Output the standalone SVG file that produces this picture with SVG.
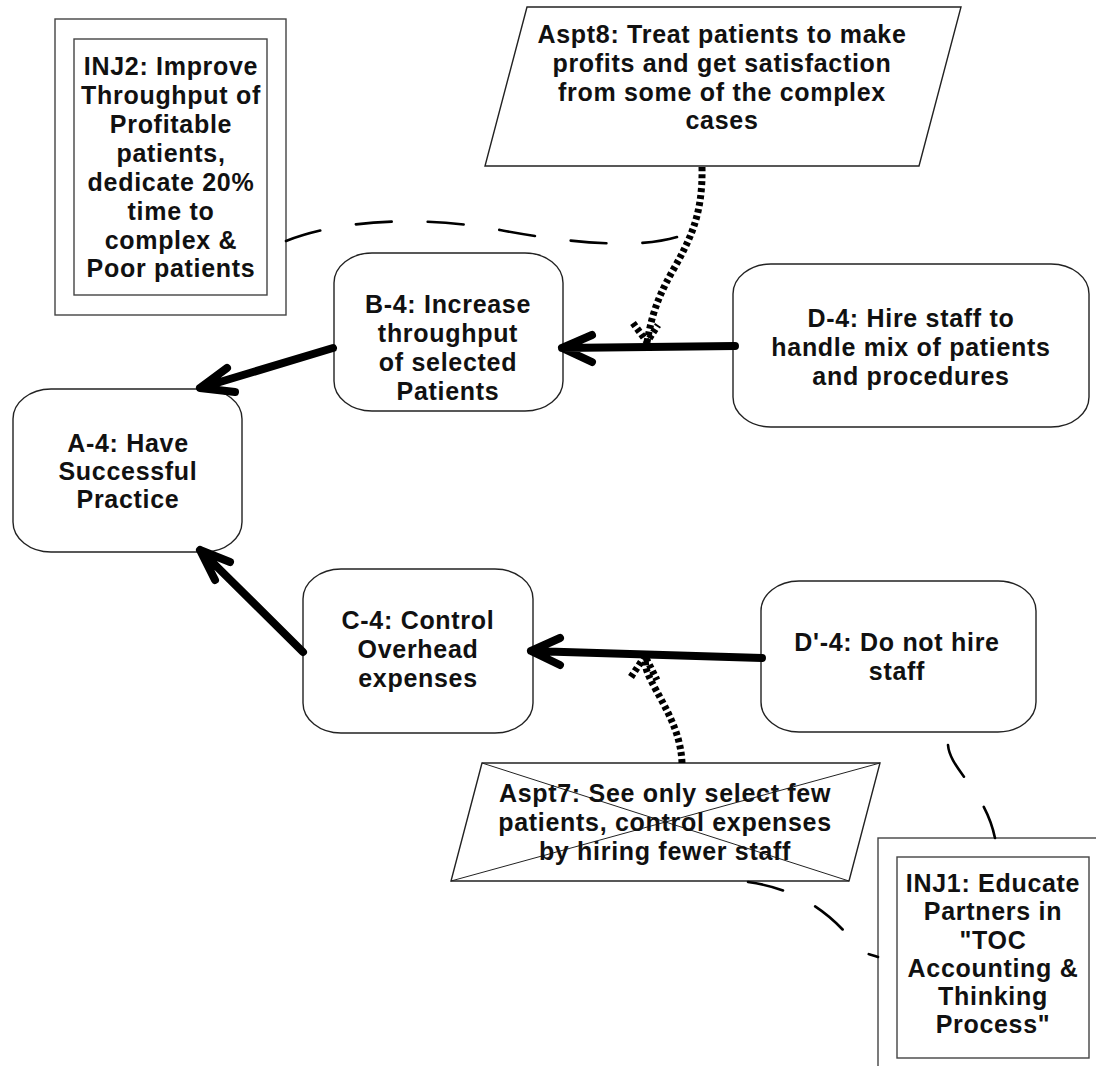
<svg xmlns="http://www.w3.org/2000/svg" width="1096" height="1066" viewBox="0 0 1096 1066">
  <style>
    .box { fill: #fff; stroke: #222; stroke-width: 1.4; }
    .frame { fill: none; stroke: #444; stroke-width: 1.4; }
    .cross { fill: none; stroke: #222; stroke-width: 1; }
    .lbl { font-family: "Liberation Sans", Arial, sans-serif; font-weight: bold; font-size: 25px; letter-spacing: 0.7px; fill: #111; text-anchor: middle; }
    .arrow { fill: none; stroke: #000; stroke-width: 8; stroke-linecap: round; stroke-linejoin: round; }
    .assume { fill: none; stroke: #000; stroke-width: 7; stroke-dasharray: 4 3; }
    .inj { fill: none; stroke: #000; stroke-width: 2.6; stroke-dasharray: 36 36; stroke-linecap: round; }
  </style>

  <rect width="1096" height="1066" fill="#fff"/>

  <!-- injection INJ2 -->
  <g id="inj2">
    <rect class="frame" x="55" y="19" width="231" height="296"/>
    <rect class="frame" x="74" y="39" width="193" height="256"/>
    <text class="lbl" x="171" y="75">INJ2: Improve</text>
    <text class="lbl" x="171" y="104">Throughput of</text>
    <text class="lbl" x="171" y="133">Profitable</text>
    <text class="lbl" x="171" y="162">patients,</text>
    <text class="lbl" x="171" y="191">dedicate 20%</text>
    <text class="lbl" x="171" y="220">time to</text>
    <text class="lbl" x="171" y="249">complex &amp;</text>
    <text class="lbl" x="171" y="277">Poor patients</text>
  </g>

  <!-- assumption Aspt8 -->
  <g id="aspt8">
    <polygon class="box" points="527,7 961,7 919,166 485,166"/>
    <text class="lbl" x="722" y="43">Aspt8: Treat patients to make</text>
    <text class="lbl" x="722" y="72">profits and get satisfaction</text>
    <text class="lbl" x="722" y="101">from some of the complex</text>
    <text class="lbl" x="722" y="129">cases</text>
  </g>

  <!-- A-4 -->
  <g id="a4">
    <rect class="box" x="13" y="389" width="229" height="163" rx="38" ry="30"/>
    <text class="lbl" x="128" y="452">A-4: Have</text>
    <text class="lbl" x="128" y="480">Successful</text>
    <text class="lbl" x="128" y="508">Practice</text>
  </g>

  <!-- B-4 -->
  <g id="b4">
    <rect class="box" x="334" y="253" width="229" height="158" rx="38" ry="30"/>
    <text class="lbl" x="448" y="313">B-4: Increase</text>
    <text class="lbl" x="448" y="342">throughput</text>
    <text class="lbl" x="448" y="371">of selected</text>
    <text class="lbl" x="448" y="400">Patients</text>
  </g>

  <!-- C-4 -->
  <g id="c4">
    <rect class="box" x="303" y="569" width="230" height="164" rx="38" ry="30"/>
    <text class="lbl" x="418" y="629">C-4: Control</text>
    <text class="lbl" x="418" y="658">Overhead</text>
    <text class="lbl" x="418" y="687">expenses</text>
  </g>

  <!-- D-4 -->
  <g id="d4">
    <rect class="box" x="733" y="264" width="356" height="163" rx="38" ry="30"/>
    <text class="lbl" x="911" y="327">D-4: Hire staff to</text>
    <text class="lbl" x="911" y="356">handle mix of patients</text>
    <text class="lbl" x="911" y="385">and procedures</text>
  </g>

  <!-- D'-4 -->
  <g id="d4prime">
    <rect class="box" x="761" y="581" width="275" height="151" rx="38" ry="30"/>
    <text class="lbl" x="897" y="651">D'-4: Do not hire</text>
    <text class="lbl" x="897" y="680">staff</text>
  </g>

  <!-- assumption Aspt7 (crossed out) -->
  <g id="aspt7">
    <polygon class="box" points="482,763 880,763 849,881 451,881"/>
    <line class="cross" x1="482" y1="763" x2="849" y2="881"/>
    <line class="cross" x1="880" y1="763" x2="451" y2="881"/>
    <text class="lbl" x="665" y="802">Aspt7: See only select few</text>
    <text class="lbl" x="665" y="831">patients, control expenses</text>
    <text class="lbl" x="665" y="860">by hiring fewer staff</text>
  </g>

  <!-- injection INJ1 -->
  <g id="inj1">
    <rect class="frame" x="878" y="838" width="240" height="260"/>
    <rect class="frame" x="897" y="857" width="192" height="201"/>
    <text class="lbl" x="993" y="892">INJ1: Educate</text>
    <text class="lbl" x="993" y="920">Partners in</text>
    <text class="lbl" x="993" y="949">"TOC</text>
    <text class="lbl" x="993" y="977">Accounting &amp;</text>
    <text class="lbl" x="993" y="1005">Thinking</text>
    <text class="lbl" x="993" y="1033">Process"</text>
  </g>

  <!-- connectors -->
  <g id="connectors">
    <!-- necessity arrows -->
    <path class="arrow" d="M333,348 L200,388 M227,368 L200,388 L235,392"/>
    <path class="arrow" d="M303,652 L200,550 M215,580 L200,550 L230,562"/>
    <path class="arrow" d="M735,346 L562,348 M592,335 L562,348 L592,362"/>
    <path class="arrow" d="M762,658 L531,651 M560,638 L531,651 L560,665"/>

    <!-- assumptions underlying the arrows -->
    <path class="assume" d="M702,167 C703,215 690,240 672,272 S651,322 647,342"/>
    <path class="assume" d="M633,323 L647,342 L658,325"/>
    <path class="assume" d="M682,763 C681,735 668,712 656,690 S646,668 645,656"/>
    <path class="assume" d="M631,677 L645,656 L657,680"/>

    <!-- injections breaking assumptions -->
    <path class="inj" d="M286,241 C340,220 420,215 500,230 S640,248 677,237"/>
    <path class="inj" d="M948,745 C950,770 985,790 995,838"/>
    <path class="inj" d="M748,882 C790,888 820,905 845,932 S865,952 878,957"/>
  </g>
</svg>
